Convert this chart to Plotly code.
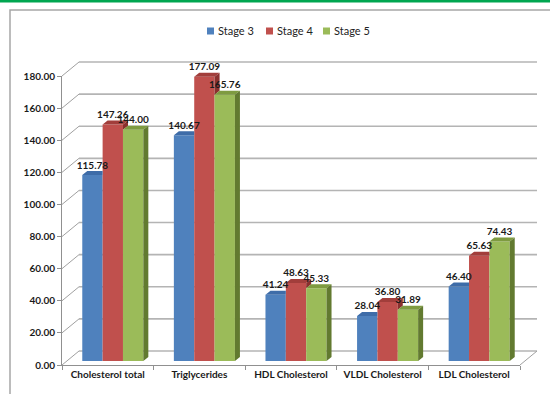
import plotly.graph_objects as go

categories = ["Cholesterol total", "Triglycerides", "HDL Cholesterol", "VLDL Cholesterol", "LDL Cholesterol"]
series_names = ["Stage 3", "Stage 4", "Stage 5"]
stage3 = [115.78, 140.67, 41.24, 28.04, 46.40]
stage4 = [147.26, 177.09, 48.63, 36.80, 65.63]
stage5 = [144.00, 165.76, 45.33, 31.89, 74.43]
y_ticks = [0, 20, 40, 60, 80, 100, 120, 140, 160, 180]

front_colors = ["#4F81BD", "#C0504D", "#9BBB59"]
top_colors = ["#3E6CA8", "#A23E3B", "#7E9B40"]
side_colors = ["#2F5689", "#8A302E", "#627A30"]

W, H = 550, 394
def px(x):
    return x / W
def py(y):
    return 1 - y / H

# geometry (pixels)
FX0, FX1 = 62, 520          # front axis x extent
FY0, FY180 = 365, 76         # front axis y of 0 and 180
WDX, WDY = 17, 14            # wall depth offset
BDX, BDY = 5, 4              # bar depth offset (bars sit slightly behind front)
unit = (FY0 - FY180) / 180.0

series = [stage3, stage4, stage5]
n = len(categories)
bw = (1 - 1/3) / 3
xs = list(range(n))

fig = go.Figure()

# front faces
for s, vals in enumerate(series):
    fig.add_trace(go.Bar(
        x=xs, y=vals, name=series_names[s], width=bw,
        offset=-(1 - 1/3) / 2 + s * bw,
        marker=dict(color=front_colors[s], line=dict(width=0)),
        xaxis="x", yaxis="y", hoverinfo="skip", showlegend=False,
    ))

# 3D faces (top & side), computed from data
catpx = (FX1 - FX0) / n
dxu = BDX / catpx
dyu = BDY / unit
for s, vals in enumerate(series):
    tx, ty, sx, sy = [], [], [], []
    for i in range(n):
        v = vals[i]
        x0 = i - (1 - 1/3) / 2 + s * bw
        x1 = x0 + bw
        vn = series[s + 1][i] if s + 1 < len(series) else None
        if vn is not None and vn > v:
            tx += [x0, x1, x1, x0 + dxu, x0, None]
            ty += [v, v, v + dyu, v + dyu, v, None]
        else:
            tx += [x0, x1, x1 + dxu, x0 + dxu, x0, None]
            ty += [v, v, v + dyu, v + dyu, v, None]
        base = 0 if vn is None else vn
        if v > base:
            sx += [x1, x1 + dxu, x1 + dxu, x1, x1, None]
            sy += [base, base + dyu, v + dyu, v, base, None]
    fig.add_trace(go.Scatter(x=tx, y=ty, mode="lines", fill="toself",
                             fillcolor=top_colors[s], line=dict(width=0),
                             showlegend=False, hoverinfo="skip", xaxis="x", yaxis="y"))
    if sx:
        fig.add_trace(go.Scatter(x=sx, y=sy, mode="lines", fill="toself",
                                 fillcolor=side_colors[s], line=dict(width=0),
                                 showlegend=False, hoverinfo="skip", xaxis="x", yaxis="y"))

# data labels
for s, vals in enumerate(series):
    cx = [i - (1 - 1/3) / 2 + s * bw + bw / 2 for i in range(n)]
    fig.add_trace(go.Scatter(
        x=cx, y=[v + dyu for v in vals], mode="text",
        text=[f"{v:.2f}" for v in vals], textposition="top center",
        textfont=dict(family="Lato", size=10, color="#1a1a1a", weight="bold"),
        showlegend=False, hoverinfo="skip", xaxis="x", yaxis="y", cliponaxis=False,
    ))

# invisible trace for front axes
fig.add_trace(go.Scatter(x=categories, y=[0] * n, mode="markers",
                         marker=dict(opacity=0), showlegend=False, hoverinfo="skip",
                         xaxis="x2", yaxis="y2"))

shapes = []
annotations = []
grid_col = "#B4B4B4"
for t in y_ticks:
    fy = FY0 - t * unit
    by = fy - WDY
    shapes.append(dict(type="line", xref="paper", yref="paper", layer="below",
                       x0=px(FX0 + WDX), x1=px(FX1 + WDX), y0=py(by), y1=py(by),
                       line=dict(color=grid_col, width=1.6)))
    shapes.append(dict(type="line", xref="paper", yref="paper", layer="below",
                       x0=px(FX0), x1=px(FX0 + WDX), y0=py(fy), y1=py(by),
                       line=dict(color="#A0A0A0", width=1)))
shapes.append(dict(type="line", xref="paper", yref="paper", layer="below",
                   x0=px(FX1), x1=px(FX1 + WDX), y0=py(FY0), y1=py(FY0 - WDY),
                   line=dict(color="#A0A0A0", width=1)))
# frame and top green band
shapes.append(dict(type="rect", xref="paper", yref="paper", layer="below",
                   x0=px(10), x1=1.02, y0=-0.02, y1=py(10),
                   line=dict(color="#A6A6A6", width=1.5), fillcolor="rgba(0,0,0,0)"))
shapes.append(dict(type="rect", xref="paper", yref="paper", layer="above",
                   x0=0, x1=1, y0=py(2.5), y1=1.0,
                   line=dict(width=0), fillcolor="#00A650"))

# legend (manual, compact like the reference)
leg_x = [207, 266, 323]
LEG_Y = 31
for s, name in enumerate(series_names):
    lx = leg_x[s]
    shapes.append(dict(type="rect", xref="paper", yref="paper", layer="above",
                       x0=px(lx), x1=px(lx + 7), y0=py(LEG_Y + 3.5), y1=py(LEG_Y - 3.5),
                       line=dict(width=0), fillcolor=front_colors[s]))
    annotations.append(dict(text=name, xref="paper", yref="paper",
                            x=px(lx + 9), y=py(LEG_Y), xanchor="left", yanchor="middle",
                            showarrow=False,
                            font=dict(family="Lato", size=11, color="#222")))

tickfont = dict(family="Lato", size=10, color="#1a1a1a", weight="bold")
fig.update_layout(
    width=W, height=H,
    margin=dict(l=0, r=0, t=0, b=0),
    paper_bgcolor="white", plot_bgcolor="rgba(0,0,0,0)",
    barmode="overlay",
    shapes=shapes,
    annotations=annotations,
    xaxis=dict(domain=[px(FX0 + BDX), px(FX1 + BDX)], range=[-0.5, n - 0.5],
               visible=False, anchor="y", fixedrange=True),
    yaxis=dict(domain=[py(FY0 - BDY), py(FY180 - BDY)], range=[0, 180],
               visible=False, anchor="x", fixedrange=True),
    xaxis2=dict(domain=[px(FX0), px(FX1)], type="category", range=[-0.5, n - 0.5],
                tickson="boundaries", ticks="outside", ticklen=4, tickcolor="#909090",
                showline=True, linecolor="#909090", linewidth=1, showgrid=False,
                tickfont=tickfont, anchor="y2", automargin=False),
    yaxis2=dict(domain=[py(FY0), py(FY180)], range=[0, 180], tickvals=y_ticks,
                tickformat=".2f", ticks="outside", ticklen=4, tickcolor="#909090",
                showline=True, linecolor="#909090", linewidth=1, showgrid=False,
                zeroline=False, tickfont=tickfont, anchor="x2", automargin=False),
    showlegend=False,
)

fig.write_html("out.html")
